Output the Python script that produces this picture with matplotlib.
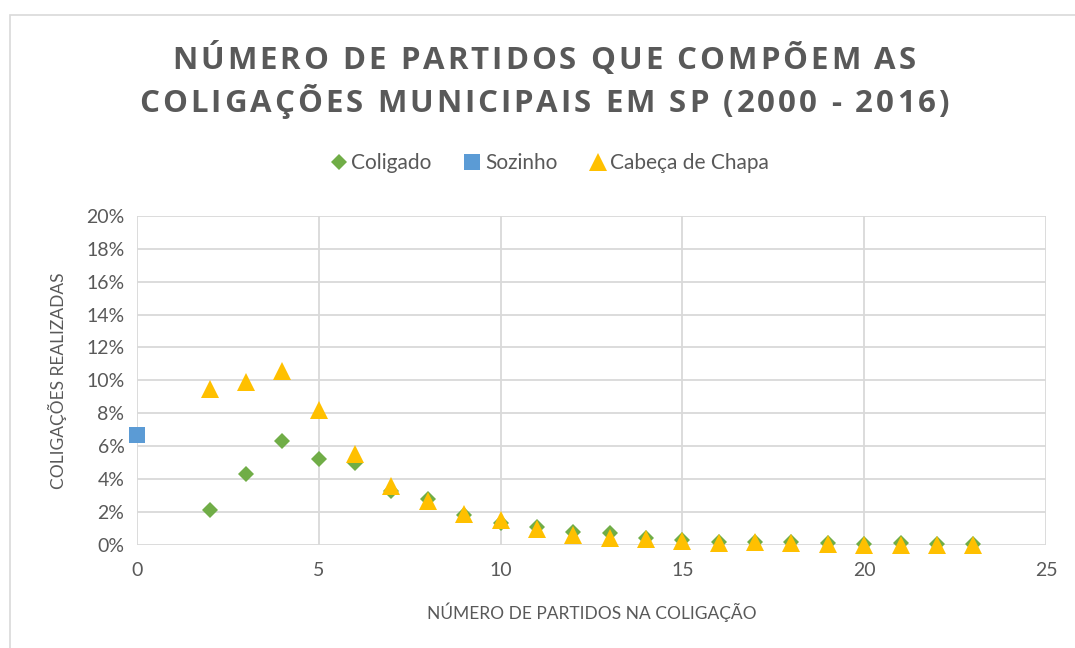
import matplotlib
matplotlib.use("Agg")
import matplotlib.pyplot as plt
from matplotlib.patches import Rectangle
from matplotlib.font_manager import FontProperties

plt.rcParams['font.family'] = ['Lato', 'DejaVu Sans']

# data (fractions)
x_coligado = list(range(2, 24))
coligado = [0.021, 0.043, 0.063, 0.052, 0.050, 0.033, 0.028, 0.018, 0.0135, 0.011,
            0.008, 0.007, 0.0045, 0.003, 0.002, 0.002, 0.0015, 0.001, 0.0005, 0.001,
            0.0005, 0.0005]
x_sozinho = [0]
sozinho = [0.067]
x_cabeca = list(range(2, 24))
cabeca = [0.095, 0.099, 0.106, 0.082, 0.055, 0.036, 0.027, 0.019, 0.015, 0.010,
          0.006, 0.004, 0.0035, 0.0025, 0.001, 0.0015, 0.001, 0.0005, 0.0002, 0.0002,
          0.0002, 0.0002]
title_lines = ['NÚMERO DE PARTIDOS QUE COMPÕEM AS',
               'COLIGAÇÕES MUNICIPAIS EM SP (2000 - 2016)']

txt = '#595959'
W, H = 1075, 648
fig = plt.figure(figsize=(W / 100, H / 100), dpi=100)
ax = fig.add_axes([0.1274, 0.159, 0.8456, 0.508])

ax.plot(x_coligado, coligado, 'D', color='#70AD47', ms=8.5, mew=0, label='Coligado',
        zorder=3, clip_on=False)
ax.plot(x_sozinho, sozinho, 's', color='#5B9BD5', ms=12, mew=0, label='Sozinho',
        zorder=3, clip_on=False)
ax.plot(x_cabeca, cabeca, '^', color='#FFC000', ms=12.5, mew=0, label='Cabeça de Chapa',
        zorder=4, clip_on=False)

ax.set_xlim(0, 25)
ax.set_ylim(0, 0.20)
ax.set_xticks(range(0, 26, 5))
ax.set_yticks([i / 100 for i in range(0, 21, 2)])
ax.set_yticklabels(['%d%%' % i for i in range(0, 21, 2)])
ax.grid(True, color='#d9d9d9', lw=1.3)
ax.set_axisbelow(True)
for s in ax.spines.values():
    s.set_visible(False)
ax.tick_params(length=0, labelsize=14, colors=txt, pad=12)
ax.tick_params(axis='y', pad=9)

ax.set_xlabel('NÚMERO DE PARTIDOS NA COLIGAÇÃO', fontsize=12.5, color=txt, labelpad=17)
ax.set_ylabel('COLIGAÇÕES REALIZADAS', fontsize=12.5, color=txt, labelpad=14)

# title with letter spacing, char by char
prop = FontProperties(family=['Open Sans', 'DejaVu Sans'], weight='bold', size=22.5)
r = fig.canvas.get_renderer()
spacing = 3.0
for line, yb in zip(title_lines, [1 - 69 / H, 1 - 112 / H]):
    ws = [r.get_text_width_height_descent(c, prop, ismath=False)[0] for c in line]
    total = sum(ws) + spacing * (len(line) - 1)
    x = 544 - total / 2
    for c, w in zip(line, ws):
        fig.text(x / W, yb, c, fontproperties=prop, color=txt, ha='left', va='baseline')
        x += w + spacing

fig.legend(loc='center', bbox_to_anchor=(0.51, 0.748), ncol=3, frameon=False, fontsize=15,
           handletextpad=0.05, columnspacing=1.4, labelcolor=txt, handlelength=1.1)

fig.patches.append(Rectangle((0.0093, -0.01), 1.0, 0.987, transform=fig.transFigure,
                             fill=False, edgecolor='#d9d9d9', lw=1.2))

fig.savefig('out.png', dpi=100)
